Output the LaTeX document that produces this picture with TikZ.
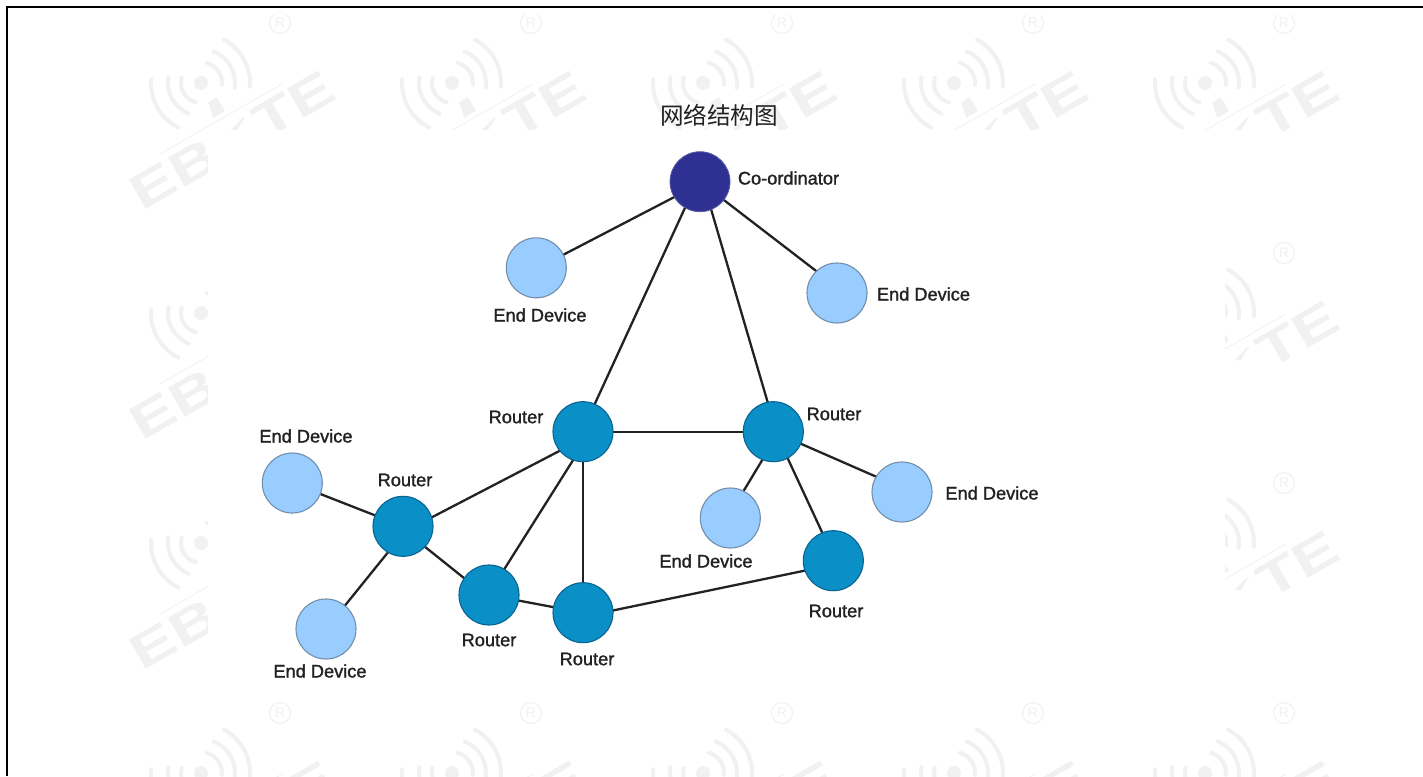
\documentclass[tikz,border=0pt]{standalone}
\usepackage{fontspec}
\setmainfont{Liberation Sans}
\newfontfamily\lab[FakeBold=1.4]{Liberation Sans}
\newfontfamily\cjk{Noto Sans CJK SC}
\newfontfamily\wmf{Liberation Sans}
\definecolor{wm}{HTML}{F1F1F1}
\definecolor{coord}{HTML}{2E3192}
\definecolor{rout}{HTML}{0A8FC7}
\definecolor{rline}{HTML}{0B6490}
\definecolor{endd}{HTML}{99CCFF}
\definecolor{eline}{HTML}{718FAB}
\definecolor{ink}{HTML}{222222}
\pgfdeclarelayer{wmlayer}
\pgfdeclarelayer{linklayer}
\pgfsetlayers{wmlayer,linklayer,main}
\tikzset{
  x=1pt,y=-1pt,
  wmtext/.style={text=wm,font=\wmf\bfseries\fontsize{49}{49}\selectfont,inner sep=0pt,rotate=30,xscale=1.35},
  wmarc/.style={draw=wm,line width=4pt,line cap=round},
  coordnode/.style={circle,minimum size=60pt,inner sep=0pt,fill=coord,draw=coord!80!white,line width=.8pt},
  routernode/.style={circle,minimum size=60pt,inner sep=0pt,fill=rout,draw=rline,line width=1.1pt},
  endnode/.style={circle,minimum size=60pt,inner sep=0pt,fill=endd,draw=eline,line width=1.1pt},
  link/.style={draw=ink,line width=2.3pt},
  lbl/.style={text=ink,font=\lab\fontsize{18.2}{19}\selectfont,inner sep=0pt},
  pics/logo/.style={code={
    \fill[wm] (0,0) circle (7);
    \begin{scope}[yscale=-1]
    \draw[wmarc] (165:20) arc[start angle=165,end angle=255,radius=20];
    \draw[wmarc] (170:33) arc[start angle=170,end angle=248,radius=33];
    \draw[wmarc] (176:50) arc[start angle=176,end angle=243,radius=50];
    \draw[wmarc] (74:21) arc[start angle=74,end angle=-5,radius=21];
    \draw[wmarc] (68:34) arc[start angle=68,end angle=-8,radius=34];
    \draw[wmarc] (62:49) arc[start angle=62,end angle=-4,radius=49];
    \end{scope}
    \draw[draw=wm,line width=.8pt] (-41,71) -- (81,1);
    \fill[wm] (7.3,19.3) -- (15.7,14.3) -- (24,27.7) -- (12.3,35) -- cycle;
    \fill[wm] (30,47) -- (41.3,35) -- (44,34) -- (36,47) -- cycle;
    \node[wmtext] at (-26.8,90.8) {EB};
    \node[wmtext] at (92.7,22) {TE};
    \draw[wm,line width=1.1pt] (79,-60) circle (10.5);
    \node[text=wm,font=\wmf\fontsize{14}{14}\selectfont,inner sep=0pt] at (79,-60) {R};
  }}
}
\begin{document}
\begin{tikzpicture}
\useasboundingbox (0,0) rectangle (1423,776);
\begin{pgfonlayer}{wmlayer}
\fill[white] (0,0) rectangle (1423,776);
\begin{scope}
\clip (8,16) rectangle (1423,776);
\foreach \xx in {201,452,703,954,1205}
  \foreach \yy in {83,313,543,773}
    \pic at (\xx,\yy) {logo};
\end{scope}
\fill[white] (208,130) rectangle (1225,702);
\draw[black,line width=1.3pt] (7,776) -- (7,7) -- (1423,7);
\end{pgfonlayer}

\node[text=ink,font=\cjk\fontsize{23.6}{24}\selectfont,inner sep=0pt] (title) at (719,115) {网络结构图};

\node[coordnode] (c) at (700,181.7) {};
\node[endnode] (e1) at (536.3,267.8) {};
\node[endnode] (e2) at (837,293) {};
\node[routernode] (r1) at (583,431.7) {};
\node[routernode] (r2) at (773.3,431.7) {};
\node[routernode] (r3) at (403,526.3) {};
\node[routernode] (r4) at (489,595) {};
\node[routernode] (r5) at (583,612.7) {};
\node[routernode] (r6) at (833.3,560.7) {};
\node[endnode] (e3) at (292.3,483) {};
\node[endnode] (e4) at (326,629) {};
\node[endnode] (e5) at (730.3,518) {};
\node[endnode] (e6) at (902,492) {};

\begin{pgfonlayer}{linklayer}
\foreach \a/\b/\ax/\ay/\bx/\by in {
  c/e1/0/2/0/1, c/e2/0/0/0/-6, c/r1/-3/0/-1/0, c/r2/3/0/3/0,
  r1/r2/0/0/0/0, r1/r3/0/7/0/6, r1/r4/8/0/-1/0, r1/r5/0/0/0/0,
  r2/e5/6/0/-3/0, r2/e6/0/0/0/-4, r2/r6/2/0/2/0,
  r3/e3/0/0/0/0, r3/e4/6/0/0/0, r3/r4/0/3/0/3, r4/r5/0/0/0/0, r5/r6/0/4/0/4}
  \draw[link] ([shift={(\ax,\ay)}]\a.center) -- ([shift={(\bx,\by)}]\b.center);
\end{pgfonlayer}

\node[lbl] (l1) at (788.5,178) {Co-ordinator};
\node[lbl] (l2) at (540,315) {End Device};
\node[lbl] (l3) at (923.5,294) {End Device};
\node[lbl] (l4) at (516,417) {Router};
\node[lbl] (l5) at (834,414) {Router};
\node[lbl] (l6) at (306,436) {End Device};
\node[lbl] (l7) at (405,480) {Router};
\node[lbl] (l8) at (992,493) {End Device};
\node[lbl] (l9) at (706,561) {End Device};
\node[lbl] (l10) at (836,611) {Router};
\node[lbl] (l11) at (489,640) {Router};
\node[lbl] (l12) at (587,659) {Router};
\node[lbl] (l13) at (320,671) {End Device};
\end{tikzpicture}
\end{document}
